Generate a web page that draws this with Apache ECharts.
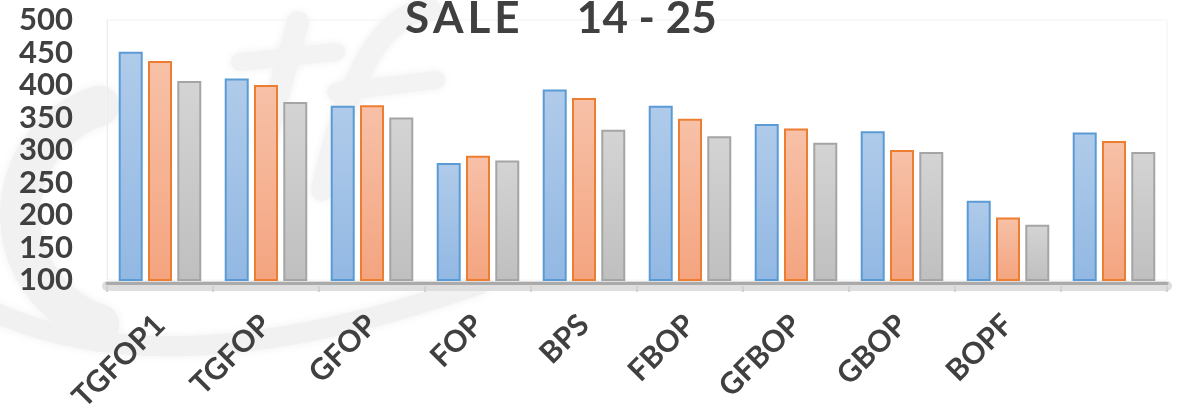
<!DOCTYPE html>
<html>
<head>
<meta charset="utf-8">
<script src="https://cdn.jsdelivr.net/npm/echarts@6/dist/echarts.min.js"></script>
<style>
  html, body { margin: 0; padding: 0; background: #ffffff; }
  #chart { width: 1181px; height: 409px; }
</style>
</head>
<body>
<div id="chart"></div>
<script>
// Sale grades, three years side by side
const categories = ['TGFOP1', 'TGFOP', 'GFOP', 'FOP', 'BPS', 'FBOP', 'GFBOP', 'GBOP', 'BOPF', ''];
const seriesFirst  = [451, 410, 368, 280, 393, 368, 340, 329, 222, 327];
const seriesSecond = [437, 400, 369, 291, 380, 348, 333, 300, 196, 314];
const seriesThird  = [406, 374, 350, 284, 331, 321, 311, 297, 185, 297];
const yMin = 100, yMax = 500, yStep = 50;

const textColor = '#404040';
const font = 'Lato, "Open Sans", sans-serif';

function grad(top, bottom) {
  return new echarts.graphic.LinearGradient(0, 0, 0, 1, [
    { offset: 0, color: top },
    { offset: 1, color: bottom }
  ]);
}

function barSeries(name, values, top, bottom, border) {
  return {
    name: name,
    type: 'bar',
    data: values,
    barWidth: 24,
    barGap: '22%',
    clip: true,
    itemStyle: { color: grad(top, bottom), borderColor: border, borderWidth: 2 }
  };
}

const chart = echarts.init(document.getElementById('chart'), null, { renderer: 'canvas' });

// soft light-grey strokes for the background watermark
const wm = { fill: null, stroke: '#f1f1f1', lineCap: 'round', shadowBlur: 10, shadowColor: '#f1f1f1' };

chart.setOption({
  backgroundColor: '#ffffff',
  animation: false,
  title: {
    // narrow spacer runs keep the spaced-out lettering tight
    text: 'S{s| }A{s| }L{s| }E{s| }     14 - 25',
    left: 400,
    top: -8,
    textStyle: {
      fontFamily: font, fontWeight: 'bold', fontSize: 44, color: textColor,
      rich: { s: { fontFamily: font, fontSize: 16 } }
    }
  },
  graphic: [
    {
      type: 'bezierCurve', silent: true, z: -10,
      shape: { x1: -30, y1: 300, cpx1: 150, cpy1: 400, x2: 480, y2: 284 },
      style: Object.assign({}, wm, { lineWidth: 20 })
    },
    {
      type: 'arc', silent: true, z: -10,
      shape: { cx: 135, cy: 215, r: 115, startAngle: Math.PI * 0.6, endAngle: Math.PI * 1.4 },
      style: Object.assign({}, wm, { lineWidth: 40 })
    },
    {
      type: 'line', silent: true, z: -10,
      shape: { x1: 298, y1: 22, x2: 266, y2: 140 },
      style: Object.assign({}, wm, { lineWidth: 22, stroke: '#f3f3f3' })
    },
    {
      type: 'line', silent: true, z: -10,
      shape: { x1: 240, y1: 62, x2: 336, y2: 52 },
      style: Object.assign({}, wm, { lineWidth: 18, stroke: '#f3f3f3' })
    },
    {
      type: 'bezierCurve', silent: true, z: -10,
      shape: { x1: 430, y1: 10, cpx1: 362, cpy1: 12, x2: 322, y2: 190 },
      style: Object.assign({}, wm, { lineWidth: 22, stroke: '#f3f3f3' })
    },
    {
      type: 'line', silent: true, z: -10,
      shape: { x1: 336, y1: 92, x2: 436, y2: 80 },
      style: Object.assign({}, wm, { lineWidth: 18, stroke: '#f3f3f3' })
    }
  ],
  grid: {
    left: 107, right: 14, top: 20, bottom: 129,
    containLabel: false,
    outerBoundsMode: 'none',
    show: true, borderColor: '#f2f2f2', borderWidth: 1, backgroundColor: 'transparent'
  },
  xAxis: [
    {
      type: 'category',
      data: categories,
      offset: 6,
      axisLine: { show: true, lineStyle: { color: '#dedede', width: 10 } },
      axisTick: { show: true, length: 6, lineStyle: { color: '#d0d0d0', width: 2 } },
      axisLabel: {
        rotate: 45,
        margin: 34,
        interval: 0,
        fontFamily: font,
        fontWeight: 'bold',
        fontSize: 30,
        color: textColor
      },
      splitLine: { show: false }
    },
    {
      type: 'category',
      data: categories,
      position: 'bottom',
      offset: 3,
      axisLine: { show: true, lineStyle: { color: '#aaaaaa', width: 3 } },
      axisTick: { show: false },
      axisLabel: { show: false },
      splitLine: { show: false }
    }
  ],
  yAxis: {
    type: 'value',
    min: yMin,
    max: yMax,
    interval: yStep,
    axisLine: { show: true, lineStyle: { color: '#ececec', width: 1 } },
    axisTick: { show: false },
    splitLine: { show: false },
    axisLabel: {
      margin: 34,
      fontFamily: font,
      fontWeight: 'bold',
      fontSize: 31,
      color: textColor
    }
  },
  series: [
    barSeries('Series 1', seriesFirst, '#b0cbea', '#92b8e3', '#5b9bd5'),
    barSeries('Series 2', seriesSecond, '#f7c1a8', '#f4a47f', '#ed7d31'),
    barSeries('Series 3', seriesThird, '#d4d4d4', '#bfbfbf', '#a5a5a5')
  ]
});
</script>
</body>
</html>
